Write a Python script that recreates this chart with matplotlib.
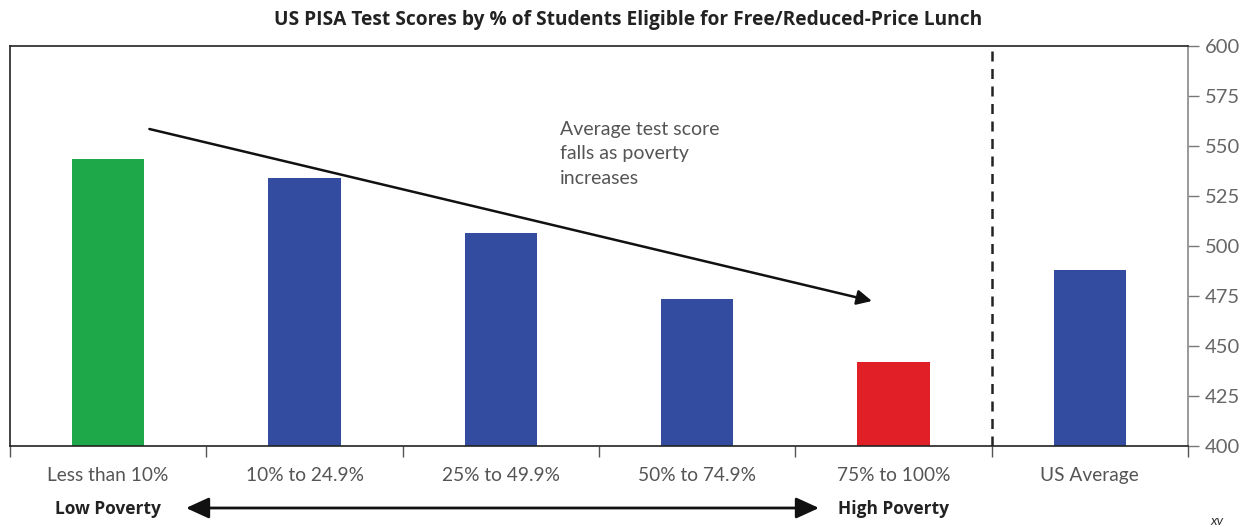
import matplotlib
matplotlib.use("Agg")
import matplotlib.pyplot as plt
from matplotlib.ticker import FixedLocator
from matplotlib.patches import FancyArrowPatch

categories = ["Less than 10%", "10% to 24.9%", "25% to 49.9%", "50% to 74.9%", "75% to 100%", "US Average"]
scores = [543.5, 534, 506.5, 473.5, 442, 488]
bar_colors = ["#1ea84a", "#344c9f", "#344c9f", "#344c9f", "#e01f26", "#344c9f"]
yticks = [400, 425, 450, 475, 500, 525, 550, 575, 600]

W, H = 1255, 529
fig = plt.figure(figsize=(W / 100, H / 100), dpi=100)
ax = fig.add_axes([10 / W, (H - 446) / H, (1188 - 10) / W, 400 / H])

x = list(range(len(categories)))
ax.bar(x, scores, width=0.37, color=bar_colors, zorder=2)
ax.set_xlim(-0.5, len(categories) - 0.5)
ax.set_ylim(400, 600)

ax.yaxis.tick_right()
ax.set_yticks(yticks)
ax.tick_params(axis="y", direction="out", length=8, width=1, colors="#777777",
               labelcolor="#666666", labelsize=14.5, pad=4)
for lab in ax.get_yticklabels():
    lab.set_fontfamily("Lato")

ax.set_xticks(x)
ax.set_xticklabels(categories, fontfamily="Lato", fontsize=13.8, color="#555555")
ax.tick_params(axis="x", which="major", length=0, pad=15)
ax.xaxis.set_minor_locator(FixedLocator([i - 0.5 for i in range(len(categories) + 1)]))
ax.tick_params(axis="x", which="minor", direction="out", length=8, width=1, color="#555555")

for s in ["left", "top", "bottom"]:
    ax.spines[s].set_color("#222222")
    ax.spines[s].set_linewidth(1.2)
ax.spines["right"].set_color("#888888")
ax.spines["right"].set_linewidth(1.2)

ax.axvline(4.5, color="#222222", linestyle=(0, (4, 3)), linewidth=1.8, zorder=3)

ax.annotate("", xy=(3.89, 472.5), xytext=(0.21, 558.5),
            arrowprops=dict(arrowstyle="-|>,head_length=0.9,head_width=0.45",
                            color="#111111", lw=1.8, shrinkA=0, shrinkB=0))
ax.text(2.3, 562.5, "Average test score\nfalls as poverty\nincreases", ha="left", va="top",
        fontfamily="Lato", fontsize=14, color="#555555", linespacing=1.52)

fig.text(628 / W, 1 - 20 / H, "US PISA Test Scores by % of Students Eligible for Free/Reduced-Price Lunch",
         ha="center", va="center", fontsize=13.8, fontweight="bold", color="#222222",
         fontfamily="Open Sans")

fig.text(108 / W, 1 - 509 / H, "Low Poverty", ha="center", va="center", fontsize=12.5,
         fontweight="bold", color="#222222", fontfamily="Open Sans")
fig.text(893 / W, 1 - 509 / H, "High Poverty", ha="center", va="center", fontsize=12.5,
         fontweight="bold", color="#222222", fontfamily="Open Sans")
fig.add_artist(FancyArrowPatch(
    (186 / W, 1 - 508 / H), (819 / W, 1 - 508 / H), transform=fig.transFigure,
    arrowstyle="<|-|>,head_length=0.7,head_width=0.32", mutation_scale=20,
    color="#111111", lw=2.0, shrinkA=0, shrinkB=0))
fig.text(1217 / W, 1 - 521 / H, "xv", ha="center", va="center", fontsize=10,
         style="italic", color="#333333", fontfamily="Lato")

fig.savefig("out.png", dpi=100)
